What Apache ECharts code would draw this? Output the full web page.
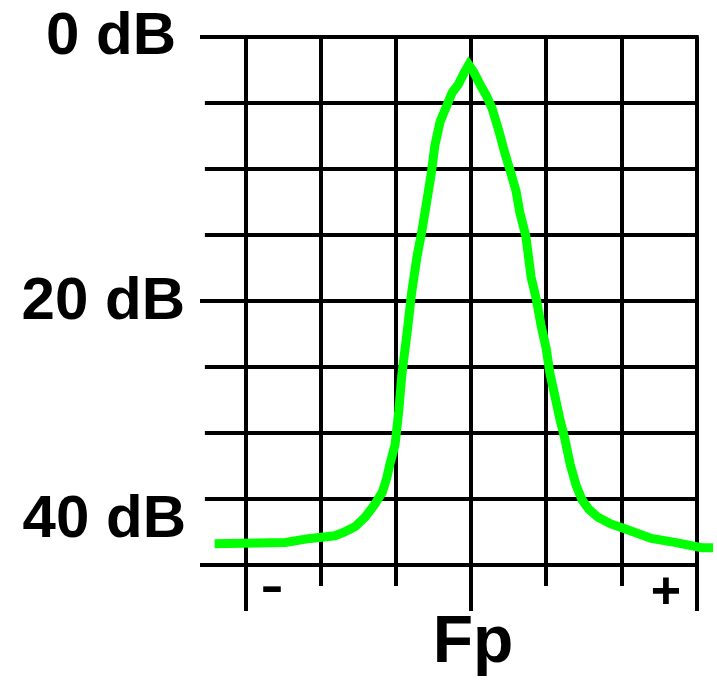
<!DOCTYPE html>
<html>
<head>
<meta charset="utf-8">
<script src="https://cdn.jsdelivr.net/npm/echarts@6/dist/echarts.min.js"></script>
<style>
  html, body { margin: 0; padding: 0; background: #fff; }
  #chart { width: 717px; height: 686px; }
</style>
</head>
<body>
<div id="chart"></div>
<script>
// frequency offset from Fp, in grid divisions
const OFFSETS = [
  -3.41, -2.47, -2.14, -1.81, -1.68, -1.54, -1.41, -1.29, -1.18, -1.12,
  -1.08, -1.01, -0.96, -0.92, -0.85, -0.79, -0.72, -0.65, -0.59, -0.53,
  -0.48, -0.41, -0.33, -0.25, -0.17, -0.09, -0.03, 0.04, 0.13, 0.21,
  0.28, 0.37, 0.45, 0.52, 0.60, 0.65, 0.73, 0.80, 0.87, 0.93,
  1.00, 1.05, 1.12, 1.18, 1.25, 1.32, 1.40, 1.48, 1.57, 1.69,
  1.86, 2.01, 2.21, 2.40, 2.71, 3.07, 3.22
]
// attenuation in dB
const ATTEN = [
  38.4, 38.3, 38.0, 37.8, 37.5, 37.1, 36.4, 35.5, 34.5, 33.4,
  32.4, 30.9, 28.3, 25.6, 22.4, 19.4, 16.7, 14.6, 12.5, 10.4,
  8.2, 6.4, 5.3, 4.2, 3.6, 2.7, 2.1, 2.7, 3.7, 4.5,
  5.4, 7.1, 8.8, 10.1, 11.7, 13.3, 15.1, 18.2, 19.9, 21.8,
  23.6, 25.5, 27.3, 28.9, 30.5, 32.4, 34.0, 35.1, 35.8, 36.4,
  36.9, 37.2, 37.6, 38.0, 38.3, 38.7, 38.7
]

const DB_LINES = [0, 5, 10, 15, 20, 25, 30, 35, 40]
const MAJOR_DB = [0, 20, 40]
const DIVISIONS = [-3, -2, -1, 0, 1, 2, 3]
const LONG_DIVISIONS = [-3, 0, 3]
const DB_LABELS = ['0 dB', '20 dB', '40 dB']
const X_LABEL = 'Fp'
const SIDE_LABELS = ['-', '+']

const X_MIN = -3.605
const X_MAX = 3.246
const Y_MAX = 43.5

const gridLines = []
DB_LINES.forEach(function (db) {
  const start = MAJOR_DB.indexOf(db) >= 0 ? X_MIN : -3.54
  gridLines.push({ coords: [[start, db], [3.03, db]] })
})
DIVISIONS.forEach(function (d) {
  const end = LONG_DIVISIONS.indexOf(d) >= 0 ? Y_MAX : 41.6
  gridLines.push({ coords: [[d, 0], [d, end]] })
})

const curve = OFFSETS.map(function (x, i) { return [x, ATTEN[i]] })

const font = '"Liberation Sans", Arial, sans-serif'

function label(text, x, y, size, align, weight) {
  return {
    type: 'text', x: x, y: y,
    style: {
      text: text,
      font: (weight || 'bold') + ' ' + size + 'px ' + font,
      fill: '#000',
      textAlign: align,
      textVerticalAlign: 'middle'
    }
  }
}

const myChart = echarts.init(document.getElementById('chart'))
const option = {
  backgroundColor: '#ffffff',
  animation: false,
  grid: { left: 200, top: 37, width: 515, height: 574 },
  xAxis: {
    type: 'value', min: X_MIN, max: X_MAX,
    axisLine: { show: false }, axisTick: { show: false },
    axisLabel: { show: false }, splitLine: { show: false }
  },
  yAxis: {
    type: 'value', min: 0, max: Y_MAX, inverse: true,
    axisLine: { show: false }, axisTick: { show: false },
    axisLabel: { show: false }, splitLine: { show: false }
  },
  series: [
    {
      type: 'lines',
      coordinateSystem: 'cartesian2d',
      silent: true,
      z: 1,
      lineStyle: { color: '#000', width: 4, opacity: 1 },
      data: gridLines
    },
    {
      type: 'line',
      z: 5,
      clip: false,
      symbol: 'none',
      lineStyle: { color: '#00ff00', width: 9, join: 'miter' },
      data: curve
    }
  ],
  graphic: [
    label(DB_LABELS[0], 176, 37, 60, 'right'),
    label(DB_LABELS[1], 185, 302, 60, 'right'),
    label(DB_LABELS[2], 186, 520, 60, 'right'),
    label(X_LABEL, 473, 644, 66, 'center'),
    label(SIDE_LABELS[0], 272, 588, 72, 'center', 'normal'),
    label(SIDE_LABELS[1], 666, 594, 52, 'center')
  ]
}
myChart.setOption(option)
</script>
</body>
</html>
